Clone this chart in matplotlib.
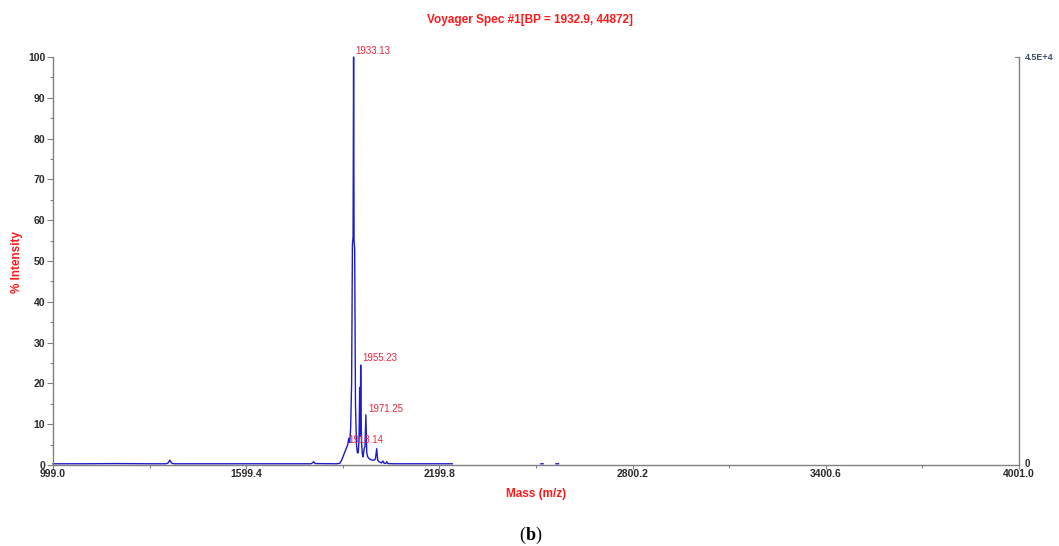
import numpy as np
import matplotlib
matplotlib.use("Agg")
import matplotlib.pyplot as plt
from matplotlib.ticker import MultipleLocator, FixedLocator

plt.rcParams["font.family"] = ["Liberation Sans", "DejaVu Sans"]

# Profile spectrum (m/z, % intensity); NaN splits separate trace pieces
mass = [999, 1100, 1200, 1300, 1350, 1357, 1362, 1367, 1375, 1500, 1700, 1800,
        1805, 1809, 1814, 1880, 1890, 1895, 1900, 1905, 1910, 1915, 1918.14,
        1921, 1924, 1927, 1929.5, 1931.5, 1933.13, 1934.6, 1936.5, 1939, 1942,
        1945, 1947.5, 1950, 1952, 1953.5, 1955.23, 1957.5, 1960, 1962.5, 1966,
        1968.5, 1971.25, 1974, 1977, 1982, 1990, 1997, 2001, 2005, 2008, 2012,
        2020, 2024, 2028, 2033, 2036, 2040, 2060, 2100, 2150, 2200, 2240,
        np.nan, 2515, 2522, np.nan, 2562, 2570]
intensity = [0.3, 0.3, 0.35, 0.3, 0.3, 0.5, 1.2, 0.5, 0.3, 0.3, 0.3, 0.3,
             0.5, 0.8, 0.35, 0.3, 0.4, 1.0, 2.0, 3.0, 4.0, 5.0, 6.5,
             5.5, 9.0, 20.0, 54.0, 56.0, 100.0, 55.0, 53.0, 15.0, 5.0,
             3.0, 3.0, 6.0, 19.0, 7.0, 24.5, 6.0, 3.0, 2.0, 4.0,
             4.5, 12.3, 3.0, 2.0, 1.5, 1.2, 1.2, 1.5, 4.0, 1.2, 0.8,
             0.5, 1.0, 0.4, 0.4, 0.8, 0.35, 0.3, 0.3, 0.3, 0.3, 0.3,
             np.nan, 0.3, 0.3, np.nan, 0.3, 0.3]

peak_masses = [1933.13, 1955.23, 1971.25, 1918.14]
peak_heights = [100.0, 24.5, 12.3, 6.5]
peak_label_offsets = [(1.0, 0.8), (1.0, 1.8), (1.5, 0.5), (0.0, -5.0)]

x_ticks = [999.0, 1599.4, 2199.8, 2800.2, 3400.6, 4001.0]
x_tick_labels = ["999.0", "1599.4", "2199.8", "2800.2", "3400.6", "4001.0"]

title = "Voyager Spec #1[BP = 1932.9, 44872]"
right_top_label = "4.5E+4"

RED = "#ff1a1a"
LABEL_RED = "#e8283c"
BLUE = "#1c1cc8"
AXIS_GRAY = "#808080"
TICK_TEXT = "#2a2a2a"

fig = plt.figure(figsize=(10.59, 5.46), dpi=100)
ax = fig.add_axes([53 / 1059, (546 - 465) / 546, 966 / 1059, 408 / 546])

ax.plot(mass, intensity, color=BLUE, lw=1.0, clip_on=False)

ax.set_xlim(x_ticks[0], x_ticks[-1])
ax.set_ylim(0, 100)

ax.spines["top"].set_visible(False)
for side in ["left", "bottom", "right"]:
    ax.spines[side].set_color(AXIS_GRAY)
    ax.spines[side].set_linewidth(1.0)

ax.yaxis.set_major_locator(MultipleLocator(10))
ax.yaxis.set_minor_locator(MultipleLocator(5))
ax.xaxis.set_major_locator(FixedLocator(x_ticks))
minor_x = [(a + b) / 2 for a, b in zip(x_ticks[:-1], x_ticks[1:])]
ax.xaxis.set_minor_locator(FixedLocator(minor_x))
ax.set_xticklabels(x_tick_labels)

ax.tick_params(axis="both", which="major", length=4, width=0.8, color=AXIS_GRAY,
               labelsize=7.5, labelcolor=TICK_TEXT)
ax.tick_params(axis="y", which="major", pad=1.5)
ax.tick_params(axis="x", which="major", length=3, pad=0)
ax.tick_params(axis="both", which="minor", length=2.5, width=0.8, color=AXIS_GRAY)
for lbl in ax.get_xticklabels() + ax.get_yticklabels():
    lbl.set_fontweight("bold")

# Right-hand absolute intensity axis
ax.annotate(right_top_label, xy=(1.0, 1.0), xycoords="axes fraction",
            xytext=(4, 0), textcoords="offset points", ha="left", va="center",
            fontsize=6.5, color="#3a4a6a", fontweight="bold")
ax.annotate("0", xy=(1.0, 0.0), xycoords="axes fraction",
            xytext=(4, -3), textcoords="offset points", ha="left", va="bottom",
            fontsize=7, color=TICK_TEXT, fontweight="bold")
ax.plot([1.0, 0.996], [1.0, 1.0], transform=ax.transAxes, color=AXIS_GRAY,
        lw=0.8, clip_on=False)

for m, h, (dx, dy) in zip(peak_masses, peak_heights, peak_label_offsets):
    ax.annotate(f"{m:.2f}", xy=(m, h), xytext=(dx, dy), textcoords="offset points",
                ha="left", va="bottom", fontsize=7, color=LABEL_RED)

ax.set_xlabel("Mass (m/z)", color=RED, fontsize=8.5, fontweight="bold", labelpad=6)
fig.text(17 / 1059, 1 - 262 / 546, "% Intensity", rotation=90, ha="center",
         va="center", color=RED, fontsize=8.5, fontweight="bold")

fig.text(530 / 1059, 1 - 20 / 546, title, ha="center", va="center",
         color=RED, fontsize=8.5, fontweight="bold")

# Panel tag "(b)" with a bold letter, pieces chained left to right
serif = ["Liberation Serif", "DejaVu Serif"]
t_open = fig.text(525 / 1059, 1 - 540 / 546, "(", ha="right", va="baseline",
                  fontsize=13, family=serif, color="black")
t_b = fig.text(0, 0, "b", fontsize=13, family=serif, fontweight="bold",
               color="black")
t_b.remove()
t_b = plt.annotate("b", xy=(1, 0), xycoords=t_open, xytext=(0.3, 0),
                   textcoords="offset points", ha="left", va="bottom",
                   fontsize=13, family=serif, fontweight="bold", color="black",
                   annotation_clip=False)
plt.annotate(")", xy=(1, 0), xycoords=t_b, xytext=(0.3, 0),
             textcoords="offset points", ha="left", va="bottom",
             fontsize=13, family=serif, color="black", annotation_clip=False)

fig.savefig("out.png", dpi=100)
